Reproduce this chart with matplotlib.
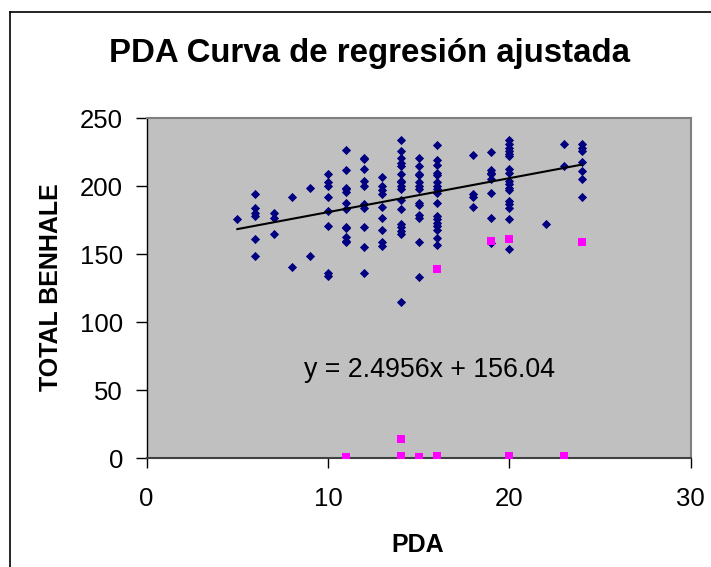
import matplotlib
matplotlib.use("Agg")
import matplotlib.pyplot as plt
from matplotlib.lines import Line2D
import numpy as np

plt.rcParams['font.family'] = ['Liberation Sans', 'DejaVu Sans']

# Blue series: PDA (x) vs TOTAL BENHALE (y)
pda_5 = [176]
pda_6 = [194, 184, 180, 178, 161, 149]
pda_7 = [180, 177, 165]
pda_8 = [192, 141]
pda_9 = [199, 149]
pda_10 = [209, 203, 200, 192, 182, 171, 136, 134]
pda_11 = [227, 212, 199, 198, 196, 188, 183, 170, 169, 163, 160, 159]
pda_12 = [221, 220, 213, 204, 200, 187, 184, 170, 155, 136]
pda_13 = [207, 200, 197, 194, 185, 177, 168, 159, 156]
pda_14 = [234, 226, 221, 217, 215, 209, 204, 203, 200, 198, 190, 183, 172, 170, 167, 165, 115]
pda_15 = [221, 215, 209, 208, 203, 200, 198, 188, 186, 179, 177, 159, 133]
pda_16 = [230, 219, 216, 210, 208, 203, 200, 198, 195, 188, 178, 176, 173, 171, 168, 162, 157]
pda_18 = [223, 194, 192, 185]
pda_19 = [225, 212, 210, 209, 205, 195, 177, 158]
pda_20 = [234, 231, 228, 226, 224, 222, 213, 210, 204, 202, 199, 197, 189, 187, 184, 176, 154]
pda_22 = [172]
pda_23 = [231, 215]
pda_24 = [231, 228, 226, 218, 211, 205, 192]

blue_groups = {5: pda_5, 6: pda_6, 7: pda_7, 8: pda_8, 9: pda_9, 10: pda_10,
               11: pda_11, 12: pda_12, 13: pda_13, 14: pda_14, 15: pda_15,
               16: pda_16, 18: pda_18, 19: pda_19, 20: pda_20, 22: pda_22,
               23: pda_23, 24: pda_24}

# Magenta series (excluded points)
out_x = [11, 14, 14, 15, 16, 16, 19, 20, 20, 23, 24]
out_y = [1, 14, 1.5, 0.7, 2, 139, 160, 161, 1.5, 1.5, 159]

slope = 2.4956
intercept = 156.04

bx = []
by = []
for k, vals in blue_groups.items():
    bx += [k] * len(vals)
    by += vals
bx = np.array(bx)
by = np.array(by)

fig = plt.figure(figsize=(7.11, 5.67), dpi=100)
ax = fig.add_axes([0.2063, 0.1917, 0.9714 - 0.2063, 0.7914 - 0.1917])
ax.set_facecolor('#C0C0C0')

ax.scatter(bx, by, marker='D', s=22, color='#000080', linewidths=0, zorder=3)
ax.scatter(out_x, out_y, marker='s', s=28, color='#FF00FF', linewidths=0, zorder=3)

xl = np.array([bx.min(), bx.max()])
ax.plot(xl, slope * xl + intercept, color='black', lw=1.5, zorder=4)

ax.text(15.6, 65, 'y = 2.4956x + 156.04', fontsize=19.3, ha='center', va='center', zorder=5)

ax.set_xlim(0, 30)
ax.set_ylim(0, 250)
ax.set_xticks([0, 10, 20, 30])
ax.set_yticks([0, 50, 100, 150, 200, 250])
ax.tick_params(axis='both', labelsize=18.5, direction='out', color='black')
ax.tick_params(axis='y', length=8, width=1, pad=9)
ax.tick_params(axis='x', length=7, width=1, pad=14)

for s in ['top', 'right']:
    ax.spines[s].set_color('#808080')
    ax.spines[s].set_linewidth(1.5)
ax.spines['left'].set_color('black')
ax.spines['bottom'].set_color('#404040')
ax.spines['left'].set_linewidth(1)
ax.spines['bottom'].set_linewidth(1.5)

fig.text(0.519, 0.906, 'PDA Curva de regresión ajustada', fontsize=23.8, fontweight='bold',
         ha='center', va='center')
fig.text(0.072, 0.494, 'TOTAL BENHALE', fontsize=18, fontweight='bold', rotation=90,
         ha='center', va='center')
fig.text(0.587, 0.039, 'PDA', fontsize=18, fontweight='bold', ha='center', va='center')

# chart area border
fig.add_artist(Line2D([10 / 711, 10 / 711], [0, 1 - 12 / 567], color='black', lw=1.2))
fig.add_artist(Line2D([10 / 711, 1], [1 - 12 / 567, 1 - 12 / 567], color='black', lw=1.2))

fig.savefig('out.png', dpi=100)
